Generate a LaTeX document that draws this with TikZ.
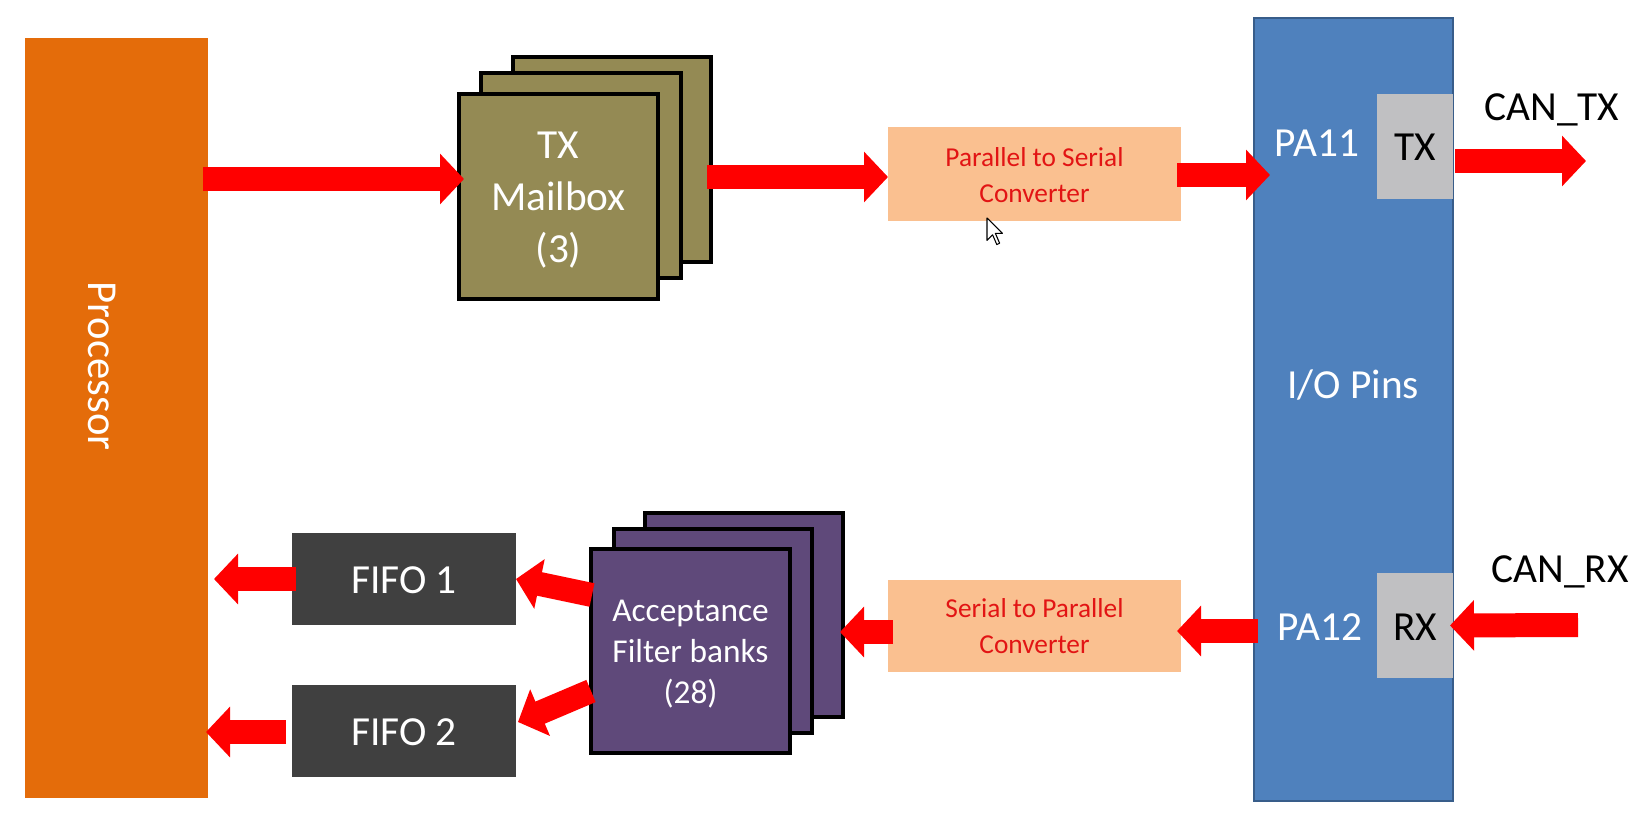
\documentclass[tikz,border=0pt]{standalone}
\usepackage{fontspec}
\setmainfont{Carlito}
\usetikzlibrary{arrows.meta,fit,calc}
\definecolor{procor}{RGB}{228,108,10}
\definecolor{olive}{RGB}{148,138,84}
\definecolor{purp}{RGB}{95,73,122}
\definecolor{fifog}{RGB}{64,64,64}
\definecolor{iob}{RGB}{79,129,189}
\definecolor{iobd}{RGB}{56,93,138}
\definecolor{pingray}{RGB}{192,192,194}
\definecolor{peach}{RGB}{250,192,144}
\definecolor{convred}{RGB}{226,20,20}
\definecolor{arrowred}{RGB}{255,0,0}
\begin{document}
\begin{tikzpicture}[x=0.75pt,y=-0.75pt,
  box/.style={inner sep=0pt, outer sep=0pt},
  stackbox/.style={box, draw=black, line width=3.5pt},
  bigarrow/.style={draw=arrowred, line width=18pt, -{Triangle[length=18pt,width=37pt]}},
  bigtext/.style={font=\fontsize{31}{36}\selectfont},
  convtext/.style={text=convred, align=center, font=\fontsize{20.5}{27}\selectfont},
]
\fill[white] (0,0) rectangle (1640,823);
\useasboundingbox (0,0) rectangle (1640,823);

% Processor
\node[box, fill=procor, fit={(25,38) (208,798)}] (proc) {};
\node[rotate=-90, text=white, font=\fontsize{32}{36}\selectfont] (proctext) at (102,366) {Processor};

% TX Mailbox stack
\node[stackbox, fill=olive, fit={(513,57) (711,262)}] (mb3) {};
\node[stackbox, fill=olive, fit={(481,73) (681,278)}] (mb2) {};
\node[stackbox, fill=olive, fit={(459,94) (658,299)}] (mb1) {};
\node[text=white, align=center, font=\fontsize{31}{39}\selectfont] (mbtext)
  at ($(mb1.center)+(0,4)$) {TX\\Mailbox\\(3)};

% Converters
\node[box, fill=peach, fit={(888,127) (1181,221)}] (p2s) {};
\node[convtext] (p2stext) at ($(p2s.center)+(0,1)$) {Parallel to Serial\\Converter};
\node[box, fill=peach, fit={(888,580) (1181,672)}] (s2p) {};
\node[convtext] (s2ptext) at ($(s2p.center)+(0,0)$) {Serial to Parallel\\Converter};

% I/O pins block
\node[box, fill=iob, draw=iobd, line width=1.5pt, fit={(1254,18) (1453,801)}] (io) {};
\node[text=white, bigtext] (iotext) at (1353,385) {I/O Pins};
\node[box, fill=pingray, fit={(1377,94) (1453,199)}] (tx) {};
\node[bigtext] (txtext) at ($(tx.center)+(0,1)$) {TX};
\node[box, fill=pingray, fit={(1377,573) (1453,678)}] (rx) {};
\node[bigtext] (rxtext) at ($(rx.center)+(0,2)$) {RX};
\node[text=white, bigtext] (pa11) at (1317,143) {PA11};
\node[text=white, bigtext] (pa12) at (1320,627) {PA12};
\node[bigtext] (cantx) at (1552,110) {CAN\_TX};
\node[bigtext] (canrx) at (1560,572) {CAN\_RX};

% Acceptance filter stack
\node[stackbox, fill=purp, fit={(645,513) (843,717)}] (af3) {};
\node[stackbox, fill=purp, fit={(614,529) (812,733)}] (af2) {};
\node[stackbox, fill=purp, fit={(591,549) (790,753)}] (af1) {};
\node[text=white, align=center, font=\fontsize{25}{31}\selectfont] (aftext)
  at ($(af1.center)+(0,3)$) {Acceptance\\Filter banks\\(28)};

% FIFOs
\node[box, fill=fifog, fit={(292,533) (516,625)}] (fifo1) {};
\node[text=white, bigtext] (fifo1text) at ($(fifo1.center)+(0,1)$) {FIFO 1};
\node[box, fill=fifog, fit={(292,685) (516,777)}] (fifo2) {};
\node[text=white, bigtext] (fifo2text) at ($(fifo2.center)+(0,1)$) {FIFO 2};

% free ends
\coordinate (txend) at (1586,161);
\coordinate (rxstart) at (1578,625);

% Arrows
\draw[bigarrow] ($(proc.east)+(-5,-239)$) -- ($(mb1.west)+(5,-17.5)$);
\draw[bigarrow] ($(mb3.east)+(-4,17.5)$) -- ($(p2s.west)+(0,3)$);
\draw[bigarrow] ($(p2s.east)+(-4,1)$) -- ($(io.west)+(16,-234.5)$);
\draw[bigarrow] ($(tx.east)+(2,14.5)$) -- (txend);
\draw[bigarrow] (rxstart) -- ($(rx.east)+(-3,0)$);
\draw[bigarrow] ($(io.west)+(4,221.5)$) -- ($(s2p.east)+(-4,5)$);
\draw[bigarrow] ($(s2p.west)+(5,6)$) -- ($(af3.east)+(-3,17)$);
\draw[bigarrow] ($(af1.west)+(1,-56)$) -- (fifo1.east);
\draw[bigarrow] ($(af1.west)+(0,40)$) -- ($(fifo2.east)+(2,-9)$);
\draw[bigarrow] ($(fifo1.west)+(4,0)$) -- ($(proc.east)+(6,161)$);
\draw[bigarrow] ($(fifo2.west)+(-6,1)$) -- ($(proc.east)+(-2,314)$);

% mouse pointer
\draw[fill=white, draw=black, line width=0.8pt, line join=round, shift={(987,218)}]
  (0,0) -- (0,22.4) -- (5.6,16.8) -- (9.8,26.6) -- (12.6,25.2) -- (8.4,15.4) -- (15.4,15.4) -- cycle;
\end{tikzpicture}
\end{document}
